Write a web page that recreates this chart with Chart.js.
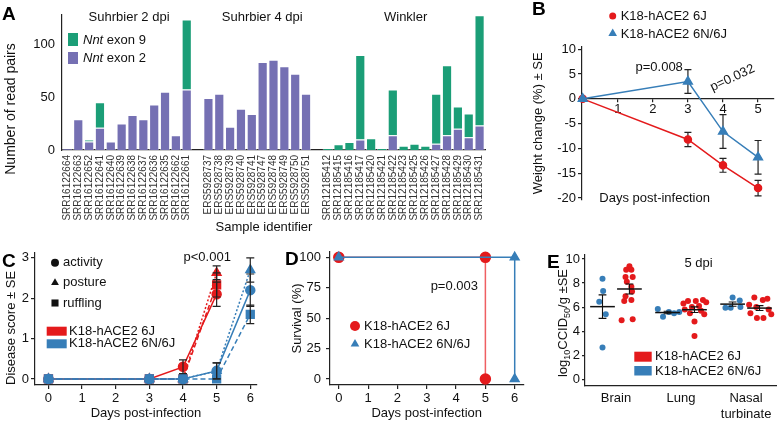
<!DOCTYPE html>
<html>
<head>
<meta charset="utf-8">
<script src="https://cdn.jsdelivr.net/npm/chart.js@4.4.1/dist/chart.umd.min.js"></script>
<style>
  html, body { margin: 0; padding: 0; background: #fff; }
  #fig { position: relative; width: 780px; height: 422px; overflow: hidden; }
  #fig canvas { position: absolute; }
</style>
</head>
<body>
<div id="fig">
  <canvas id="panelA" width="530" height="235" style="left:0;top:0"></canvas>
  <canvas id="panelB" width="250" height="225" style="left:530px;top:0"></canvas>
  <canvas id="panelC" width="270" height="197" style="left:0;top:225px"></canvas>
  <canvas id="panelD" width="260" height="197" style="left:270px;top:225px"></canvas>
  <canvas id="panelE" width="250" height="197" style="left:530px;top:225px"></canvas>
</div>
<script>
// ---- A: Nnt read pairs per sample
const aGroups = ['Suhrbier 2 dpi', 'Suhrbier 4 dpi', 'Winkler'];
const aSamples2dpi = ['SRR16122664','SRR16122663','SRR16122652','SRR16122641','SRR16122640','SRR16122639','SRR16122638','SRR16122637','SRR16122636','SRR16122635','SRR16122662','SRR16122661'];
const aSamples4dpi = ['ERS5928737','ERS5928738','ERS5928739','ERS5928740','ERS5928741','ERS5928747','ERS5928748','ERS5928749','ERS5928750','ERS5928751'];
const aSamplesWinkler = ['SRR12185412','SRR12185415','SRR12185416','SRR12185417','SRR12185420','SRR12185421','SRR12185422','SRR12185423','SRR12185425','SRR12185426','SRR12185427','SRR12185428','SRR12185429','SRR12185430','SRR12185431'];
const exon2_2dpi = [1.5, 29, 8, 21, 8, 25, 33, 29, 43, 55, 14, 57];
const exon9_2dpi = [0, 0, 2, 24, 0, 0, 0, 0, 0, 0, 0, 66];
const exon2_4dpi = [49, 53, 22, 39, 34, 83, 85, 79, 72, 53];
const exon9_4dpi = [0, 0, 0, 0, 0, 0, 0, 0, 0, 0];
const exon2_winkler = [0, 0, 0, 10, 0, 0, 14, 0, 0, 0, 6, 14, 20, 12, 23];
const exon9_winkler = [2, 5.5, 7.5, 79.5, 11, 2, 43, 4, 6, 4, 47, 66, 21, 22.5, 104];

// ---- B: weight change
const bDays = [0, 3, 4, 5];
const bWeight6J = [0, -8.2, -13.4, -18.0];
const bWeight6J_se = [0, 1.45, 1.4, 1.55];
const bWeight6N = [0, 3.5, -6.6, -11.8];
const bWeight6N_se = [0, 2.4, 3.4, 3.4];
const bPvals = ['p=0.008', 'p=0.032'];

// ---- C: disease score
const cDays6J = [0, 3, 4, 5];
const cActivity6J = [0, 0, 0.3, 2.1];
const cActivity6J_se = [0, 0, 0.17, 0.3];
const cPosture6J = [0, 0, 0, 2.63];
const cPosture6J_se = [0, 0, 0, 0.17];
const cRuffling6J = [0, 0, 0, 2.33];
const cRuffling6J_se = [0, 0, 0, 0.3];
const cDays6N = [0, 3, 4, 5, 6];
const cActivity6N = [0, 0, 0, 0.2, 2.2];
const cActivity6N_se = [0, 0, 0, 0.2, 0.4];
const cPosture6N = [0, 0, 0, 0.2, 2.7];
const cPosture6N_se = [0, 0, 0, 0.2, 0.3];
const cRuffling6N = [0, 0, 0, 0, 1.6];
const cRuffling6N_se = [0, 0, 0, 0, 0.23];

// ---- D: survival
const dTime6J = [0, 5, 5];
const dSurv6J = [100, 100, 0];
const dTime6N = [0, 6, 6];
const dSurv6N = [100, 100, 0];

// ---- E: tissue titres, 5 dpi (jit = horizontal spread of the dots)
const eTissues = ['Brain', 'Lung', ['Nasal', 'turbinate']];
const eBrain6N = [8.35, 7.35, 6.45, 5.4, 2.65];
const eBrain6N_jit = [0, 0.01, -0.05, 0.05, 0];
const eBrain6J = [9.4, 9.1, 9.1, 8.5, 8.5, 8.1, 7.7, 7.3, 6.9, 6.5, 6.6, 4.9, 5.0];
const eBrain6J_jit = [0, -0.05, 0.03, -0.06, 0.05, -0.04, 0.03, 0.04, -0.06, -0.08, 0.03, -0.12, 0.05];
const eLung6N = [5.85, 5.2, 5.6, 5.5, 5.6];
const eLung6N_jit = [-0.15, -0.07, 0.02, 0.1, 0.18];
const eLung6J = [6.6, 6.5, 6.5, 6.4, 6.3, 6.1, 6.0, 5.8, 5.7, 5.5, 5.4, 4.8, 3.6];
const eLung6J_jit = [0.13, -0.1, 0.02, 0.18, -0.17, 0.07, -0.04, -0.15, 0.1, -0.07, 0.15, 0, 0];
const eNasal6N = [6.8, 6.55, 5.95, 5.95, 6.0];
const eNasal6N_jit = [0, 0.11, -0.11, -0.03, 0.12];
const eNasal6J = [6.8, 6.7, 6.6, 6.2, 6.0, 5.8, 5.5, 5.4, 5.1, 5.1];
const eNasal6J_jit = [-0.08, 0.12, 0.05, -0.16, -0.05, 0.14, -0.14, 0.18, -0.04, 0.06];

const FONT = "'Liberation Sans', Arial, Helvetica, sans-serif";
const RED = '#e41a1c', BLUE = '#377eb8', GREEN = '#1b9e77', PURPLE = '#7570b3', INK = '#111';

Chart.defaults.font.family = FONT;
Chart.defaults.font.size = 13;
Chart.defaults.color = INK;
Chart.defaults.animation = false;
Chart.defaults.responsive = false;
Chart.defaults.plugins.legend.display = false;
Chart.defaults.plugins.tooltip.enabled = false;

const pts = (xs, ys) => xs.map((x, i) => ({x, y: ys[i]}));

function txt(ctx, s, x, y, o = {}) {
  ctx.save();
  ctx.font = o.font || `13px ${FONT}`;
  ctx.fillStyle = o.color || INK;
  ctx.textAlign = o.align || 'left';
  ctx.textBaseline = o.base || 'middle';
  ctx.translate(x, y);
  if (o.rot) ctx.rotate(o.rot * Math.PI / 180);
  ctx.fillText(s, 0, 0);
  ctx.restore();
}
function panelLetter(ctx, s, x, y) {
  txt(ctx, s, x, y, {font: `bold 19px ${FONT}`, base: 'alphabetic', color: '#000'});
}
function marker(ctx, style, x, y, r, color) {
  ctx.save();
  ctx.fillStyle = color;
  ctx.strokeStyle = color;
  Chart.helpers.drawPoint(ctx, {pointStyle: style, radius: r, borderWidth: 0, rotation: 0}, x, y);
  ctx.restore();
}
function box(ctx, x, y, w, h, color) {
  ctx.save(); ctx.fillStyle = color; ctx.fillRect(x, y, w, h); ctx.restore();
}

// SE whiskers for datasets carrying an "se" array
function drawErr(chart, opts) {
  const {ctx} = chart, ys = chart.scales.y, c = opts.cap || 3.5;
  ctx.save();
  ctx.strokeStyle = opts.color || '#222';
  ctx.lineWidth = opts.lineWidth || 1.2;
  chart.data.datasets.forEach((ds, i) => {
    if (!ds.se) return;
    chart.getDatasetMeta(i).data.forEach((el, j) => {
      const se = ds.se[j];
      if (!se) return;
      const v = ds.data[j].y;
      const t = ys.getPixelForValue(v + se), b = ys.getPixelForValue(v - se);
      ctx.beginPath();
      ctx.moveTo(el.x, t); ctx.lineTo(el.x, b);
      ctx.moveTo(el.x - c, t); ctx.lineTo(el.x + c, t);
      ctx.moveTo(el.x - c, b); ctx.lineTo(el.x + c, b);
      ctx.stroke();
    });
  });
  ctx.restore();
}
const errorBars = {
  id: 'errorBars',
  beforeDatasetsDraw(chart, args, opts) { if (opts.under) drawErr(chart, opts); },
  afterDatasetsDraw(chart, args, opts) { if (!opts.under) drawErr(chart, opts); }
};

const axisLine = {display: true, color: '#222', width: 1.2};
const tickGrid = {drawOnChartArea: false, tickLength: 4, color: '#222', lineWidth: 1.2};
const noGrid = {display: false, drawTicks: false};

// ================= A =================
const aLabels = [...aSamples2dpi, '', ...aSamples4dpi, '', ...aSamplesWinkler];
const aExon2 = [...exon2_2dpi, null, ...exon2_4dpi, null, ...exon2_winkler];
const aExon9 = [...exon9_2dpi, null, ...exon9_4dpi, null, ...exon9_winkler];
const aSpans = (() => {
  let start = 0;
  return [aSamples2dpi, aSamples4dpi, aSamplesWinkler].map(g => {
    const sp = [start, start + g.length - 1];
    start += g.length + 1;
    return sp;
  });
})();

const decorA = {
  id: 'decorA',
  afterDraw(chart) {
    const {ctx} = chart, xs = chart.scales.x;
    panelLetter(ctx, 'A', 2, 20);
    aSpans.forEach((sp, k) => {
      const cx = (xs.getPixelForValue(sp[0]) + xs.getPixelForValue(sp[1])) / 2 + (k === 1 ? 5 : 2);
      txt(ctx, aGroups[k], cx, 21, {align: 'center', base: 'alphabetic'});
    });
    txt(ctx, 'Sample identifier', 264, 227, {align: 'center'});
    txt(ctx, 'Number of read pairs', 11, 109, {align: 'center', rot: -90, font: `14px ${FONT}`});
    // legend
    box(ctx, 68, 33, 10, 13, GREEN);
    box(ctx, 68, 52, 10, 12, PURPLE);
    [['exon 9', 40], ['exon 2', 58]].forEach(([t, y]) => {
      ctx.save();
      ctx.font = `italic 13px ${FONT}`;
      const w = ctx.measureText('Nnt').width;
      ctx.restore();
      txt(ctx, 'Nnt', 83, y, {font: `italic 13px ${FONT}`});
      txt(ctx, ' ' + t, 83 + w, y);
    });
  }
};

new Chart(document.getElementById('panelA'), {
  type: 'bar',
  data: {
    labels: aLabels,
    datasets: [
      {label: 'Nnt exon 2', data: aExon2, backgroundColor: PURPLE, borderColor: 'rgba(255,255,255,0.55)',
       borderWidth: 1, categoryPercentage: 1, barPercentage: 0.94},
      {label: 'Nnt exon 9', data: aExon9, backgroundColor: GREEN, borderColor: 'rgba(255,255,255,0.55)',
       borderWidth: 1, categoryPercentage: 1, barPercentage: 0.94}
    ]
  },
  options: {
    layout: {padding: {top: 5.5, right: 45, left: 0, bottom: 0}},
    scales: {
      x: {
        stacked: true,
        grid: noGrid,
        border: axisLine,
        ticks: {autoSkip: false, minRotation: 90, maxRotation: 90, padding: 5, font: {size: 10}, color: '#333'},
        afterFit(s) { s.height = 85; }
      },
      y: {
        stacked: true, min: 0, max: 127.5,
        grid: noGrid,
        border: axisLine,
        ticks: {stepSize: 50, includeBounds: false, padding: 7},
        afterFit(s) { s.width = 62; }
      }
    }
  },
  plugins: [decorA]
});

// ================= B =================
const decorB = {
  id: 'decorB',
  afterDraw(chart) {
    const {ctx} = chart, xs = chart.scales.x, ys = chart.scales.y;
    panelLetter(ctx, 'B', 2, 15);
    marker(ctx, 'circle', 82.7, 16, 3.5, RED);
    txt(ctx, 'K18-hACE2 6J', 90.7, 16.5);
    marker(ctx, 'triangle', 82.7, 33.5, 5, BLUE);
    txt(ctx, 'K18-hACE2 6N/6J', 90.7, 34);
    txt(ctx, bPvals[0], xs.getPixelForValue(2.18), ys.getPixelForValue(6.3), {align: 'center'});
    txt(ctx, bPvals[1], xs.getPixelForValue(4.27), ys.getPixelForValue(4.2), {align: 'center', rot: -25});
    txt(ctx, 'Days post-infection', xs.getPixelForValue(2.05), ys.getPixelForValue(-20.1), {align: 'center'});
  }
};

new Chart(document.getElementById('panelB'), {
  type: 'line',
  data: {
    datasets: [
      {label: 'K18-hACE2 6J', data: pts(bDays, bWeight6J), se: bWeight6J_se, borderColor: RED, backgroundColor: RED,
       pointStyle: 'circle', pointRadius: 3.5, borderWidth: 1.5, order: 1, clip: false},
      {label: 'K18-hACE2 6N/6J', data: pts(bDays, bWeight6N), se: bWeight6N_se, borderColor: BLUE, backgroundColor: BLUE,
       pointStyle: 'triangle', pointRadius: 5, borderWidth: 1.5, order: 0, clip: false}
    ]
  },
  options: {
    layout: {padding: {top: 46.7, right: 0, left: 0, bottom: 25}},
    scales: {
      x: {
        type: 'linear', position: {y: 0}, min: -0.02, max: 5.44,
        grid: {...tickGrid, tickLength: 3}, border: axisLine,
        ticks: {stepSize: 1, includeBounds: false, padding: 0, callback: v => v === 0 ? '' : v},
        afterFit(s) { s.height = 0; }
      },
      y: {
        min: -20.4, max: 10.52,
        grid: tickGrid, border: axisLine,
        ticks: {stepSize: 5, includeBounds: false, padding: 2},
        title: {display: true, text: 'Weight change (%) ± SE', padding: {top: 1, bottom: 0}},
        afterFit(s) { s.width = 52; }
      }
    },
    plugins: {errorBars: {under: true, cap: 3.5}}
  },
  plugins: [errorBars, decorB]
});

// ================= C =================
const decorC = {
  id: 'decorC',
  afterDraw(chart) {
    const {ctx} = chart, xs = chart.scales.x, ys = chart.scales.y;
    panelLetter(ctx, 'C', 2, 42);
    marker(ctx, 'circle', 55, 37.7, 4, '#111');
    txt(ctx, 'activity', 63, 37.7);
    marker(ctx, 'triangle', 55, 57.7, 4.5, '#111');
    txt(ctx, 'posture', 63, 57.7);
    marker(ctx, 'rect', 55, 78, 5, '#111');
    txt(ctx, 'ruffling', 63, 78);
    box(ctx, 46.7, 101.7, 20, 9, RED);
    txt(ctx, 'K18-hACE2 6J', 69, 106.2);
    box(ctx, 46.7, 114.3, 20, 9, BLUE);
    txt(ctx, 'K18-hACE2 6N/6J', 69, 118.8);
    txt(ctx, 'p<0.001', xs.getPixelForValue(4.72), ys.getPixelForValue(3.0), {align: 'center'});
  }
};

const cLine = (days, vals, se, color, style, dash, order) => ({
  data: pts(days, vals), se, borderColor: color, backgroundColor: color, pointBorderColor: color,
  pointStyle: style, pointRadius: style === 'rect' ? 5.5 : (style === 'triangle' ? 5 : 4.5),
  borderWidth: 1.5, borderDash: dash, order, clip: false
});

new Chart(document.getElementById('panelC'), {
  type: 'line',
  data: {
    datasets: [
      cLine(cDays6J, cActivity6J, cActivity6J_se, RED, 'circle', [], 1),
      cLine(cDays6J, cPosture6J, cPosture6J_se, RED, 'triangle', [2, 2], 1),
      cLine(cDays6J, cRuffling6J, cRuffling6J_se, RED, 'rect', [5, 3], 1),
      cLine(cDays6N, cActivity6N, cActivity6N_se, BLUE, 'circle', [], 0),
      cLine(cDays6N, cPosture6N, cPosture6N_se, BLUE, 'triangle', [2, 2], 0),
      cLine(cDays6N, cRuffling6N, cRuffling6N_se, BLUE, 'rect', [5, 3], 0)
    ]
  },
  options: {
    layout: {padding: {top: 28, right: 13, left: 0, bottom: 0}},
    scales: {
      x: {
        type: 'linear', min: -0.4, max: 6.2,
        grid: tickGrid, border: axisLine,
        ticks: {stepSize: 1, includeBounds: false, padding: 2},
        title: {display: true, text: 'Days post-infection', padding: {top: 0, bottom: 1}},
        afterFit(s) { s.height = 37; }
      },
      y: {
        min: -0.15, max: 3.12,
        grid: tickGrid, border: axisLine,
        ticks: {stepSize: 1, includeBounds: false, padding: 2},
        title: {display: true, text: 'Disease score ± SE', align: 'start', padding: {top: 4, bottom: 0}},
        afterFit(s) { s.width = 35; }
      }
    },
    plugins: {errorBars: {under: false, cap: 4}}
  },
  plugins: [errorBars, decorC]
});

// ================= D =================
const decorD = {
  id: 'decorD',
  afterDraw(chart) {
    const {ctx} = chart, xs = chart.scales.x, ys = chart.scales.y;
    panelLetter(ctx, 'D', 15, 40);
    marker(ctx, 'circle', 85, 101, 5, RED);
    txt(ctx, 'K18-hACE2 6J', 94, 101.5);
    marker(ctx, 'triangle', 85, 119, 5, BLUE);
    txt(ctx, 'K18-hACE2 6N/6J', 94, 119.5);
    txt(ctx, 'p=0.003', xs.getPixelForValue(3.94), ys.getPixelForValue(75.8), {align: 'center'});
  }
};

new Chart(document.getElementById('panelD'), {
  type: 'line',
  data: {
    datasets: [
      {label: 'K18-hACE2 6J', data: pts(dTime6J, dSurv6J), borderColor: '#ef5f62', backgroundColor: RED,
       pointBorderColor: RED, pointStyle: 'circle', pointRadius: 5, borderWidth: 1.5, order: 1, clip: false},
      {label: 'K18-hACE2 6N/6J', data: pts(dTime6N, dSurv6N), borderColor: BLUE, backgroundColor: BLUE,
       pointStyle: 'triangle', pointRadius: 5, borderWidth: 1.5, order: 0, clip: false}
    ]
  },
  options: {
    layout: {padding: {top: 27, right: 2, left: 16, bottom: 0}},
    scales: {
      x: {
        type: 'linear', min: -0.3, max: 6.3,
        grid: tickGrid, border: axisLine,
        ticks: {stepSize: 1, includeBounds: false, padding: 2},
        title: {display: true, text: 'Days post-infection', padding: {top: 0, bottom: 1}},
        afterFit(s) { s.height = 37; }
      },
      y: {
        min: -4.9, max: 104.4,
        grid: tickGrid, border: axisLine,
        ticks: {stepSize: 25, includeBounds: false, padding: 5},
        title: {display: true, text: 'Survival (%)', padding: {top: 4, bottom: 0}},
        afterFit(s) { s.width = 44; }
      }
    }
  },
  plugins: [decorD]
});

// ================= E =================
const E_OFF = 0.207;
const eGroups6N = [[eBrain6N, eBrain6N_jit], [eLung6N, eLung6N_jit], [eNasal6N, eNasal6N_jit]];
const eGroups6J = [[eBrain6J, eBrain6J_jit], [eLung6J, eLung6J_jit], [eNasal6J, eNasal6J_jit]];
const eDots = (groups, side) => groups.flatMap(([vals, jit], k) =>
  vals.map((v, i) => ({x: k + 1 + side * E_OFF + jit[i], y: v})));

// mean line + SE whisker per group
const groupStats = {
  id: 'groupStats',
  afterDatasetsDraw(chart) {
    const {ctx} = chart, xs = chart.scales.x, ys = chart.scales.y;
    ctx.save();
    ctx.strokeStyle = '#111';
    [[eGroups6N, -1], [eGroups6J, 1]].forEach(([groups, side]) => {
      groups.forEach(([vals], k) => {
        const n = vals.length;
        const mean = vals.reduce((a, b) => a + b, 0) / n;
        const sd = Math.sqrt(vals.reduce((a, b) => a + (b - mean) ** 2, 0) / (n - 1));
        const se = sd / Math.sqrt(n);
        const xc = k + 1 + side * E_OFF;
        const px = xs.getPixelForValue(xc);
        const half = xs.getPixelForValue(xc + 0.19) - px;
        const cap = xs.getPixelForValue(xc + 0.06) - px;
        const ym = ys.getPixelForValue(mean), yt = ys.getPixelForValue(mean + se), yb = ys.getPixelForValue(mean - se);
        ctx.lineWidth = 1.5;
        ctx.beginPath(); ctx.moveTo(px - half, ym); ctx.lineTo(px + half, ym); ctx.stroke();
        ctx.lineWidth = 1.1;
        ctx.beginPath();
        ctx.moveTo(px, yt); ctx.lineTo(px, yb);
        ctx.moveTo(px - cap, yt); ctx.lineTo(px + cap, yt);
        ctx.moveTo(px - cap, yb); ctx.lineTo(px + cap, yb);
        ctx.stroke();
      });
    });
    ctx.restore();
  }
};

const decorE = {
  id: 'decorE',
  afterDraw(chart) {
    const {ctx} = chart, xs = chart.scales.x, ys = chart.scales.y;
    panelLetter(ctx, 'E', 17, 43);
    // rotated y title with subscripts
    const parts = [['log', 0], ['10', 1], ['CCID', 0], ['50', 1], ['/g ±SE', 0]];
    ctx.save();
    ctx.translate(32, 98);
    ctx.rotate(-Math.PI / 2);
    ctx.fillStyle = INK;
    ctx.textBaseline = 'alphabetic';
    let w = 0;
    const widths = parts.map(([t, sub]) => {
      ctx.font = `${sub ? 9 : 13}px ${FONT}`;
      const m = ctx.measureText(t).width;
      w += m;
      return m;
    });
    let x = -w / 2;
    parts.forEach(([t, sub], i) => {
      ctx.font = `${sub ? 9 : 13}px ${FONT}`;
      ctx.fillText(t, x, sub ? 7.5 : 4.7);
      x += widths[i];
    });
    ctx.restore();
    txt(ctx, '5 dpi', xs.getPixelForValue(2.27), ys.getPixelForValue(9.67), {align: 'center'});
    box(ctx, 104.3, 126.7, 17.4, 10, RED);
    txt(ctx, 'K18-hACE2 6J', 125, 131.9);
    box(ctx, 104.3, 141, 17.4, 9.5, BLUE);
    txt(ctx, 'K18-hACE2 6N/6J', 125, 146);
  }
};

new Chart(document.getElementById('panelE'), {
  type: 'scatter',
  data: {
    datasets: [
      {label: 'K18-hACE2 6N/6J', data: eDots(eGroups6N, -1), backgroundColor: BLUE, borderColor: BLUE,
       pointRadius: 3, borderWidth: 0, clip: false},
      {label: 'K18-hACE2 6J', data: eDots(eGroups6J, 1), backgroundColor: RED, borderColor: RED,
       pointRadius: 3, borderWidth: 0, clip: false}
    ]
  },
  options: {
    layout: {padding: {top: 29.3, right: 2, left: 0, bottom: 0}},
    scales: {
      x: {
        type: 'linear', min: 0.524, max: 3.46,
        grid: noGrid, border: axisLine,
        ticks: {stepSize: 1, includeBounds: false, padding: 5, callback: v => eTissues[v - 1]},
        afterFit(s) { s.height = 36.3; }
      },
      y: {
        min: -0.53, max: 10.39,
        grid: {...tickGrid, tickLength: 3}, border: axisLine,
        ticks: {stepSize: 2, includeBounds: false, padding: 2},
        afterFit(s) { s.width = 55; }
      }
    }
  },
  plugins: [groupStats, decorE]
});
</script>
</body>
</html>
